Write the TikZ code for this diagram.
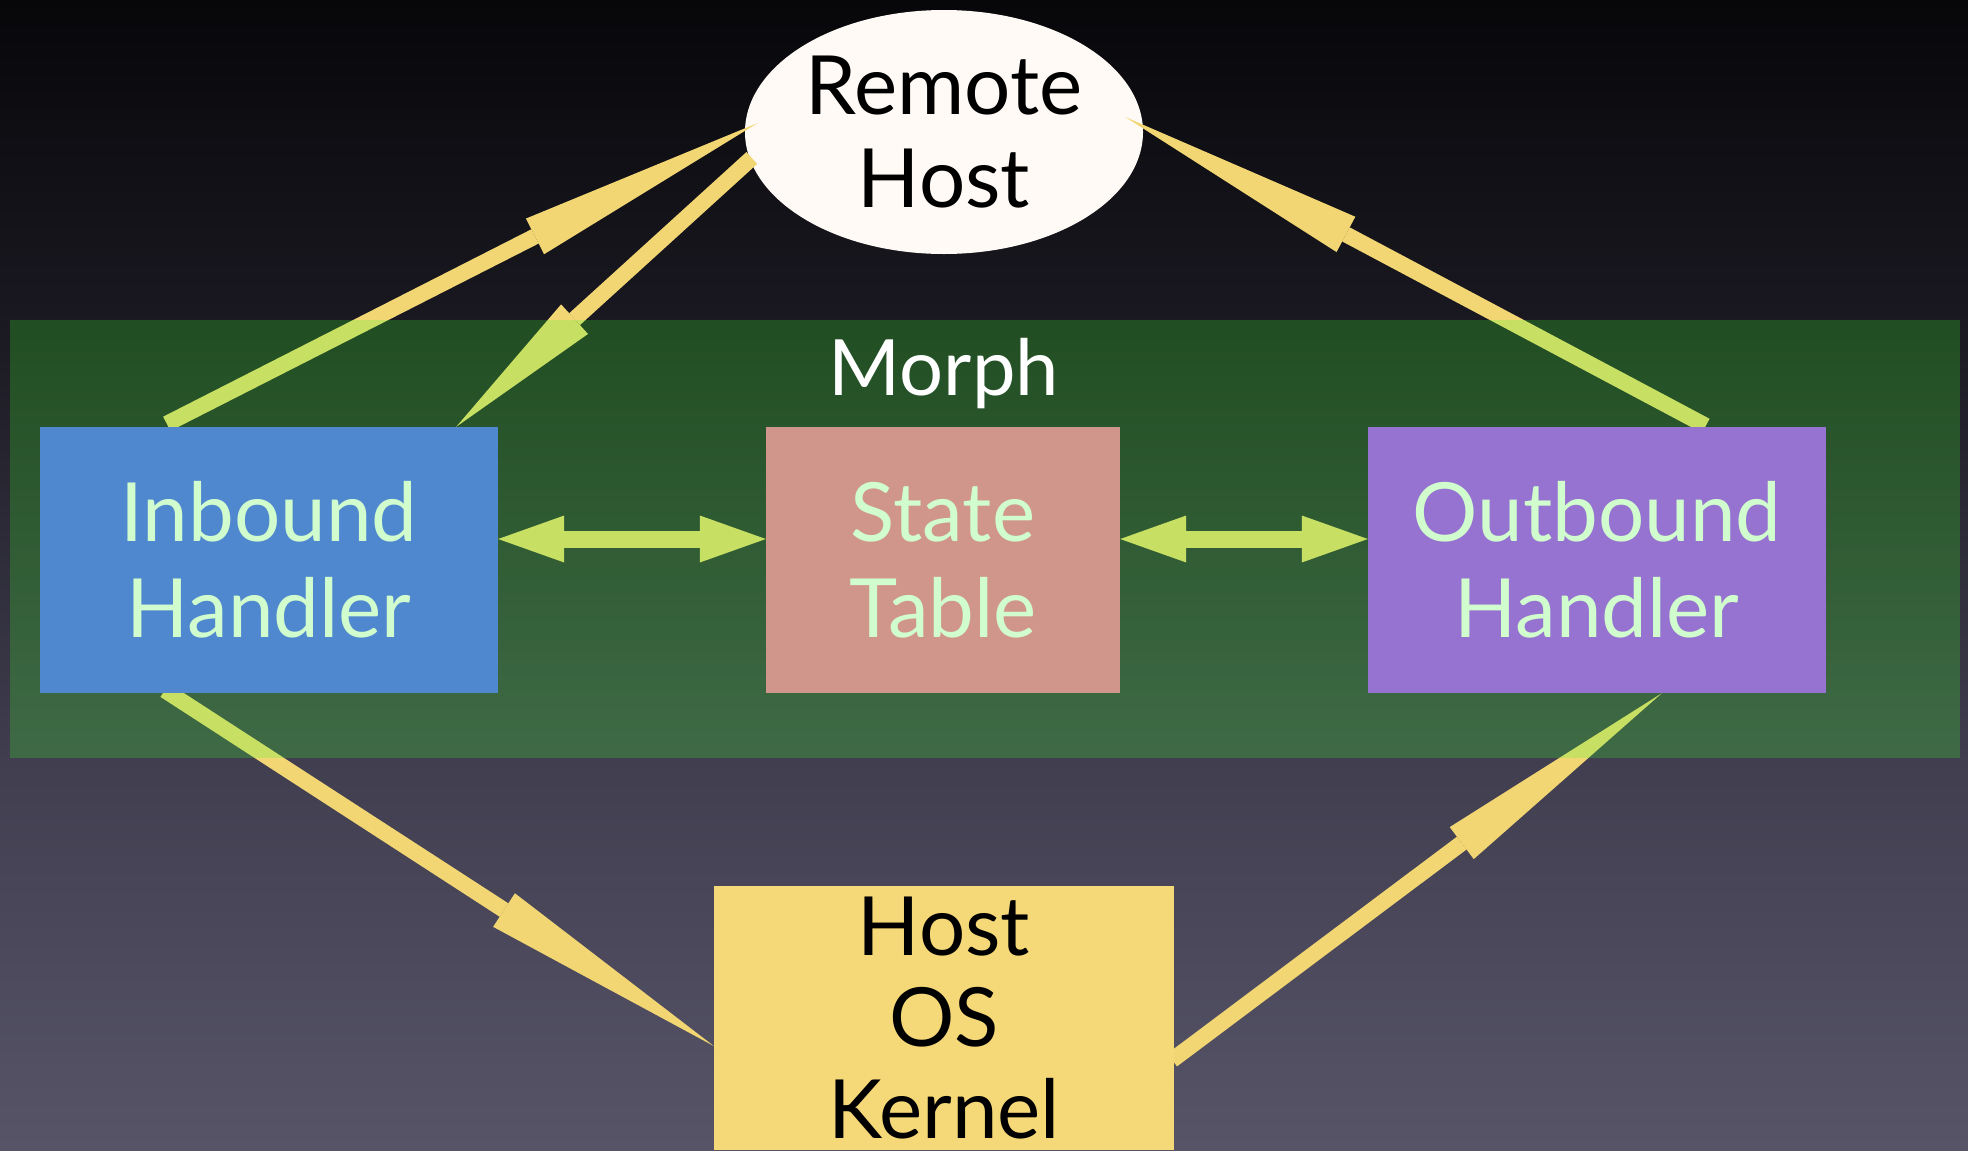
\documentclass[tikz,border=0pt]{standalone}
\usepackage{fontspec}
\setmainfont{Lato}
\usetikzlibrary{arrows.meta,shapes.geometric}
\definecolor{bgA}{RGB}{7,7,10}
\definecolor{bgB}{RGB}{25,24,32}
\definecolor{bgC}{RGB}{64,62,79}
\definecolor{bgD}{RGB}{87,84,104}
\definecolor{bandgreen}{RGB}{60,255,40}
\definecolor{arrowyellow}{RGB}{242,214,116}
\definecolor{inbblue}{RGB}{79,136,207}
\definecolor{statepink}{RGB}{208,150,139}
\definecolor{outpurple}{RGB}{150,115,208}
\definecolor{kernyellow}{RGB}{245,216,120}
\definecolor{offwhite}{RGB}{255,250,246}
\definecolor{mint}{RGB}{208,252,206}
\pgfdeclarelayer{back}
\pgfdeclarelayer{arrowlayer}
\pgfdeclarelayer{bandlayer}
\pgfsetlayers{back,arrowlayer,bandlayer,main}
\tikzset{
  bigtext/.style={font=\fontsize{82}{96}\selectfont},
  boxnode/.style={rectangle, inner sep=0pt, align=center, text=mint, bigtext},
  remotenode/.style={ellipse, inner sep=0pt, fill=offwhite, text=black, align=center,
    minimum width=398bp, minimum height=244bp, font=\fontsize{82}{93}\selectfont},
  bigarrow/.style={draw=arrowyellow, line width=16bp,
    -{Triangle[length=#1,width=40bp,line width=0pt]}},
  bigarrow/.default=250bp,
  dblarrow/.style={draw=arrowyellow, line width=17bp,
    {Triangle[length=66bp,width=47bp,line width=0pt]}-{Triangle[length=66bp,width=47bp,line width=0pt]}},
}
\begin{document}
\begin{tikzpicture}[x=1bp,y=-1bp]
\useasboundingbox (0,0) rectangle (1968,1150);
\begin{pgfonlayer}{back}
  \shade[top color=bgA,bottom color=bgB] (0,0) rectangle (1968,312);
  \shade[top color=bgB,bottom color=bgC] (0,310) rectangle (1968,761);
  \shade[top color=bgC,bottom color=bgD] (0,759) rectangle (1968,1150);
  \node[remotenode] (rem) at (944,132) {Remote\\Host};
\end{pgfonlayer}

\node[boxnode, fill=inbblue, minimum width=458bp, minimum height=266bp] (inb) at (269,560) {Inbound\\Handler};
\node[boxnode, fill=statepink, minimum width=354bp, minimum height=266bp] (state) at (943,560) {State\\Table};
\node[boxnode, fill=outpurple, minimum width=458bp, minimum height=266bp] (outb) at (1597,560) {Outbound\\Handler};
\node[boxnode, fill=kernyellow, text=black, minimum width=460bp, minimum height=264bp,
  font=\fontsize{82}{92}\selectfont] (kern) at (944,1018) {Host\\OS\\Kernel};
\node[font=\fontsize{78}{90}\selectfont, text=white, anchor=base, inner sep=0pt] (morph) at (944,395) {Morph};

\begin{pgfonlayer}{arrowlayer}
  \draw[bigarrow] ([shift={(127,-3)}]inb.north west) -- ([shift={(13,-9)}]rem.west);
  \draw[bigarrow=160bp] ([shift={(7,26)}]rem.west) -- ([shift={(-42,0)}]inb.north east);
  \draw[bigarrow] ([shift={(338,-1)}]outb.north west) -- ([shift={(-18,-15)}]rem.east);
  \draw[bigarrow] ([shift={(125,-3)}]inb.south west) -- ([shift={(0,28)}]kern.west);
  \draw[bigarrow] ([shift={(-2,42)}]kern.east) -- ([shift={(294,0)}]outb.south west);
  \draw[dblarrow] ([shift={(0,-21)}]inb.east) -- ([shift={(0,-21)}]state.west);
  \draw[dblarrow] ([shift={(0,-21)}]state.east) -- ([shift={(0,-21)}]outb.west);
\end{pgfonlayer}

\begin{pgfonlayer}{bandlayer}
  \fill[bandgreen, fill opacity=0.23] (10,320) rectangle (1960,758);
\end{pgfonlayer}
\end{tikzpicture}
\end{document}
